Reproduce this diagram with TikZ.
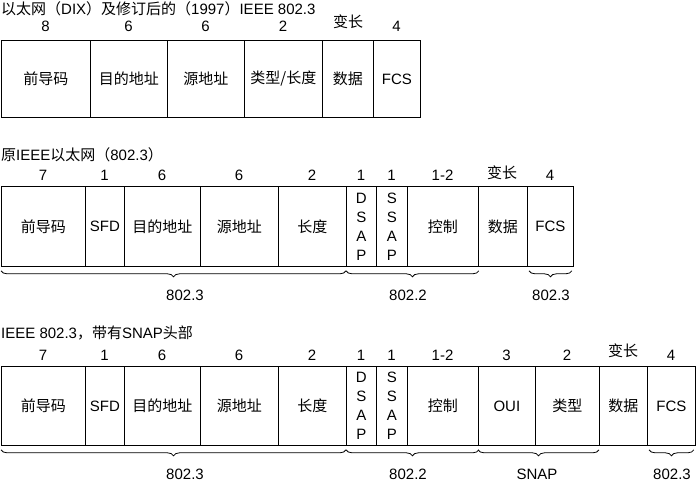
\documentclass[tikz,border=0pt]{standalone}
\usepackage{fontspec}
\setmainfont{Liberation Sans}
\newfontfamily\cjk{Noto Sans CJK SC}
\usetikzlibrary{decorations.pathreplacing, calc}

\begin{document}
\begin{tikzpicture}[x=1pt, y=-1pt,
	field/.style={draw, thick, anchor=north west, inner sep=0pt,
		align=center, font=\fontsize{15}{19}\selectfont},
	size/.style={font=\fontsize{15}{17}\selectfont},
	title/.style={anchor=west, inner sep=0pt, font=\fontsize{15}{17}\selectfont},
	brc/.style={decorate, decoration={brace, mirror, amplitude=6pt}, thick},
	std/.style={font=\fontsize{15}{17}\selectfont}
	]
	\useasboundingbox (0,0) rectangle (700,485);

	% DIX
	\node[title] (t1) at (1,9) {{\cjk 以太网（}DIX{\cjk ）及修订后的（}1997{\cjk ）}IEEE 802.3};
	\foreach \a/\b/\t/\n/\s in {1/90/{\cjk 前导码}/1/8, 90/167/{\cjk 目的地址}/2/6,
		167/244/{\cjk 源地址}/3/6, 244/322/{\cjk 类型/长度}/4/2,
		322/373/{\cjk 数据}/5/, 373/420/FCS/6/4}
	{
		\node[field, minimum width={(\b-\a)*1pt}, minimum height=77pt] (a\n) at (\a,40) {\t};
		\node[size] (sa\n) at ({(\a+\b)/2},26) {\s};
	}
	\node[size] (va) at (348,22) {\cjk 变长};

	% original IEEE
	\node[title] (t2) at (1,155) {{\cjk 原}IEEE{\cjk 以太网（}802.3{\cjk ）}};
	\foreach \a/\b/\t/\n/\s in {1/85/{\cjk 前导码}/1/7, 85/124/SFD/2/1,
		124/200/{\cjk 目的地址}/3/6, 200/278/{\cjk 源地址}/4/6,
		278/346/{\cjk 长度}/5/2, 346/376/{D\\S\\A\\P}/6/1, 376/407/{S\\S\\A\\P}/7/1,
		407/478/{\cjk 控制}/8/1-2, 478/527/{\cjk 数据}/9/, 527/573/FCS/10/4}
	{
		\node[field, minimum width={(\b-\a)*1pt}, minimum height=80pt] (b\n) at (\a,186) {\t};
		\node[size] (sb\n) at ({(\a+\b)/2},175) {\s};
	}
	\node[size] (vb) at (502,173) {\cjk 变长};
	\draw[brc] ($(b1.south west)+(0,4)$) -- ($(b6.south west)+(0,4)$);
	\draw[brc] ($(b6.south west)+(0,4)$) -- ($(b8.south east)+(0,4)$);
	\draw[brc] ($(b10.south west)+(2,4)$) -- ($(b10.south east)+(-2,4)$);
	\node[std] (lb1) at (185,295) {802.3};
	\node[std] (lb2) at (408,295) {802.2};
	\node[std] (lb3) at (551,295) {802.3};

	% IEEE with SNAP
	\node[title] (t3) at (1,333) {IEEE 802.3{\cjk ，带有}SNAP{\cjk 头部}};
	\foreach \a/\b/\t/\n/\s in {1/85/{\cjk 前导码}/1/7, 85/124/SFD/2/1,
		124/200/{\cjk 目的地址}/3/6, 200/278/{\cjk 源地址}/4/6,
		278/346/{\cjk 长度}/5/2, 346/376/{D\\S\\A\\P}/6/1, 376/407/{S\\S\\A\\P}/7/1,
		407/478/{\cjk 控制}/8/1-2, 478/535/OUI/9/3, 535/599/{\cjk 类型}/10/2,
		599/647/{\cjk 数据}/11/, 647/695/FCS/12/4}
	{
		\node[field, minimum width={(\b-\a)*1pt}, minimum height=79pt] (c\n) at (\a,366) {\t};
		\node[size] (sc\n) at ({(\a+\b)/2},355) {\s};
	}
	\node[size] (vc) at (623,351) {\cjk 变长};
	\draw[brc] ($(c1.south west)+(0,4)$) -- ($(c6.south west)+(0,4)$);
	\draw[brc] ($(c6.south west)+(0,4)$) -- ($(c8.south east)+(0,4)$);
	\draw[brc] ($(c9.south west)+(0,4)$) -- ($(c11.south west)+(0,4)$);
	\draw[brc] ($(c12.south west)+(2,4)$) -- ($(c12.south east)+(-2,4)$);
	\node[std] (lc1) at (185,474) {802.3};
	\node[std] (lc2) at (408,474) {802.2};
	\node[std] (lc3) at (537,474) {SNAP};
	\node[std] (lc4) at (672,474) {802.3};
\end{tikzpicture}
\end{document}
